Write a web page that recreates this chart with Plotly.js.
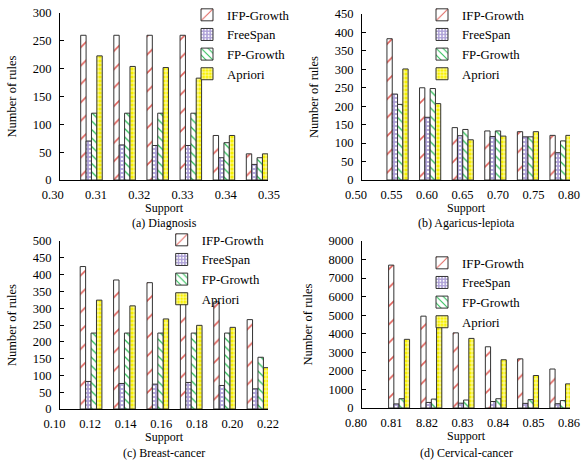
<!DOCTYPE html>
<html>
<head>
<meta charset="utf-8">
<script src="https://cdn.plot.ly/plotly-3.0.1.min.js"></script>
<style>html,body{margin:0;padding:0;background:#fff;}#chart{width:584px;height:462px;}</style>
</head>
<body>
<div id="chart"></div>
<script>
// ---- data ----
const seriesNames = ['IFP-Growth', 'FreeSpan', 'FP-Growth', 'Apriori'];

// (a) Diagnosis
const ticksA = ['0.30', '0.31', '0.32', '0.33', '0.34', '0.35'];
const ifpA = [260, 260, 260, 260, 80, 47];
const freeA = [70, 63, 62, 62, 40, 28];
const fpA = [120, 120, 120, 120, 67, 40];
const aprA = [223, 204, 202, 183, 80, 47];

// (b) Agaricus-lepiota
const ticksB = ['0.50', '0.55', '0.60', '0.65', '0.70', '0.75', '0.80'];
const ifpB = [383, 250, 142, 133, 131, 121];
const freeB = [233, 170, 120, 118, 117, 74];
const fpB = [205, 248, 137, 133, 117, 106];
const aprB = [301, 207, 109, 119, 131, 121];

// (c) Breast-cancer
const ticksC = ['0.10', '0.12', '0.14', '0.16', '0.18', '0.20', '0.22'];
const ifpC = [424, 384, 376, 334, 319, 266];
const freeC = [82, 76, 74, 79, 70, 60];
const fpC = [226, 226, 226, 226, 226, 154];
const aprC = [324, 307, 268, 249, 243, 123];

// (d) Cervical-cancer
const ticksD = ['0.80', '0.81', '8.82', '0.83', '0.84', '0.85', '0.86'];
const ifpD = [7700, 4950, 4050, 3300, 2650, 2100];
const freeD = [220, 300, 260, 350, 250, 230];
const fpD = [500, 480, 430, 500, 450, 400];
const aprD = [3700, 4450, 3750, 2600, 1750, 1300];

const captions = ['(a) Diagnosis', '(b) Agaricus-lepiota', '(c) Breast-cancer', '(d) Cervical-cancer'];

// ---- styles ----
const FONT = '"Liberation Serif", "Times New Roman", Times, serif';
const styles = [
  {bgcolor: '#ffffff', fgcolor: '#e0605a', shape: '/', size: 13, solidity: 0.12},
  {bgcolor: '#ada0d6', fgcolor: '#ffffff', shape: '.', size: 4, solidity: 0.3},
  {bgcolor: '#ffffff', fgcolor: '#2fbf5a', shape: '\\', size: 6, solidity: 0.22},
  {bgcolor: '#f7f000', fgcolor: '#ffffff', shape: '+', size: 4, solidity: 0.3}
];

const panels = [
  {vals: [ifpA, freeA, fpA, aprA], ticks: ticksA},
  {vals: [ifpB, freeB, fpB, aprB], ticks: ticksB},
  {vals: [ifpC, freeC, fpC, aprC], ticks: ticksC},
  {vals: [ifpD, freeD, fpD, aprD], ticks: ticksD}
];

const data = [];
panels.forEach((p, pi) => {
  const xs = pi === 0 ? 'x' : 'x' + (pi + 1);
  const ys = pi === 0 ? 'y' : 'y' + (pi + 1);
  const lg = pi === 0 ? 'legend' : 'legend' + (pi + 1);
  p.vals.forEach((v, si) => {
    data.push({
      type: 'bar',
      name: seriesNames[si],
      x: v.map((_, i) => i),
      y: v,
      xaxis: xs, yaxis: ys, legend: lg,
      marker: {
        color: styles[si].bgcolor,
        line: {color: '#333333', width: 1},
        pattern: {shape: styles[si].shape, fgcolor: styles[si].fgcolor, bgcolor: styles[si].bgcolor,
                  size: styles[si].size, solidity: styles[si].solidity, fillmode: 'replace'}
      }
    });
  });
  // invisible trace carrying the support tick labels
  data.push({
    type: 'scatter', mode: 'markers',
    x: p.ticks, y: p.ticks.map(() => 0),
    xaxis: 'x' + (pi + 5), yaxis: ys,
    marker: {opacity: 0, size: 1}, hoverinfo: 'skip', showlegend: false
  });
});

// pixel helpers (margins are zero)
const W = 584, H = 462;
const px = v => v / W;
const py = v => 1 - v / H;

const plotX = [[60, 268], [362, 570], [60, 268], [362, 570]];
const plotY = [[13, 180], [14, 180], [241, 409], [241, 408]];
const labX = [[52.7, 269], [356, 569], [54.5, 268], [356, 569]];
const xRanges = [[-0.95, 5.33], [-1.09, 5.29], [-0.93, 5.30], [-1.15, 5.3]];
const yRanges = [[0, 300], [0, 450], [0, 500], [0, 9000]];
const yDticks = [50, 50, 50, 1000];
const legendPos = [[187, 0], [422, 0], [161.7, 225], [422, 248]];
const captionPos = [[164, 223], [466, 223], [164, 452.5], [466, 452.5]];

const layout = {
  width: W, height: H,
  margin: {l: 0, r: 0, t: 0, b: 0},
  paper_bgcolor: '#ffffff', plot_bgcolor: 'rgba(0,0,0,0)',
  barmode: 'group', bargap: 0.35, bargroupgap: 0,
  font: {family: FONT, color: '#000000', size: 12.5},
  hovermode: false,
  annotations: []
};

for (let pi = 0; pi < 4; pi++) {
  const sx = pi === 0 ? '' : String(pi + 1);
  layout['xaxis' + sx] = {
    domain: [px(plotX[pi][0]), px(plotX[pi][1])],
    anchor: 'y' + sx,
    range: xRanges[pi],
    showline: true, linecolor: '#000000', linewidth: 1,
    ticks: '', showticklabels: false, showgrid: false, zeroline: false,
    title: {text: 'Support', font: {family: FONT, size: 12, color: '#000'}, standoff: 23}
  };
  layout['yaxis' + sx] = {
    domain: [py(plotY[pi][1]), py(plotY[pi][0])],
    anchor: 'x' + sx,
    range: yRanges[pi], dtick: yDticks[pi], tick0: 0,
    showline: true, linecolor: '#000000', linewidth: 1,
    ticks: 'inside', ticklen: 4, tickcolor: '#000',
    ticklabelstandoff: 5,
    tickfont: {family: FONT, size: 12.5, color: '#000'},
    showgrid: false, zeroline: false,
    title: {text: 'Number of rules', font: {family: FONT, size: 12.5, color: '#000'}, standoff: 13}
  };
  layout['xaxis' + (pi + 5)] = {
    domain: [px(labX[pi][0]), px(labX[pi][1])],
    anchor: 'y' + sx,
    type: 'category',
    range: [0, panels[pi].ticks.length - 1],
    showline: false, ticks: '', showgrid: false, zeroline: false,
    ticklabelstandoff: 5,
    tickfont: {family: FONT, size: 12.5, color: '#000'}
  };
  const lk = pi === 0 ? 'legend' : 'legend' + (pi + 1);
  layout[lk] = {
    x: px(legendPos[pi][0]), y: py(legendPos[pi][1]),
    xanchor: 'left', yanchor: 'top',
    bgcolor: 'rgba(0,0,0,0)', borderwidth: 0,
    font: {family: FONT, size: 12.8, color: '#000'}
  };
  layout.annotations.push({
    text: captions[pi], xref: 'paper', yref: 'paper',
    x: px(captionPos[pi][0]), y: py(captionPos[pi][1]),
    xanchor: 'center', yanchor: 'middle', showarrow: false,
    font: {family: FONT, size: 12, color: '#000'}
  });
}

Plotly.newPlot('chart', data, layout, {displayModeBar: false, staticPlot: true});
</script>
</body>
</html>
